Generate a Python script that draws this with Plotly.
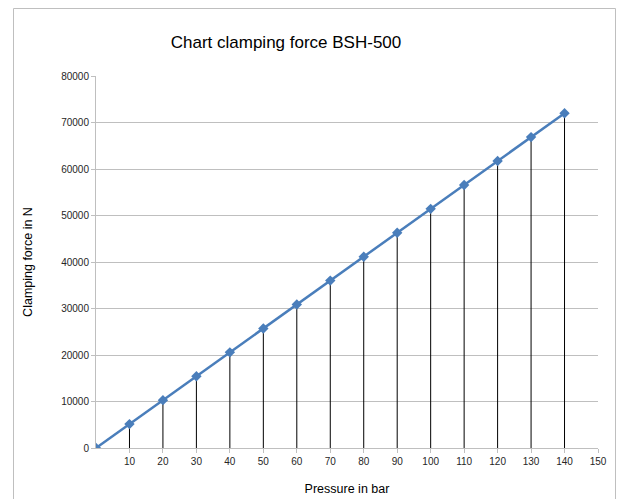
import plotly.graph_objects as go

pressure_bar = [0, 10, 20, 30, 40, 50, 60, 70, 80, 90, 100, 110, 120, 130, 140]
clamping_force_n = [0, 5140, 10290, 15430, 20570, 25710, 30860, 36000, 41140,
                    46290, 51430, 56570, 61710, 66860, 72000]
x_ticks = [10, 20, 30, 40, 50, 60, 70, 80, 90, 100, 110, 120, 130, 140, 150]
y_ticks = [0, 10000, 20000, 30000, 40000, 50000, 60000, 70000, 80000]

title_text = "Chart clamping force BSH-500"
x_title = "Pressure in bar"
y_title = "Clamping force in N"

FONT = "Liberation Sans, Arial, sans-serif"
BLUE = "#4A7EBB"
GRID = "#BFBFBF"

# drop lines built from the data (None-separated segments)
drop_x, drop_y = [], []
for px, fy in zip(pressure_bar, clamping_force_n):
    drop_x += [px, px, None]
    drop_y += [0, fy, None]

fig = go.Figure()
fig.add_trace(go.Scatter(x=drop_x, y=drop_y, mode="lines",
                         line=dict(color="#000000", width=1),
                         hoverinfo="skip", showlegend=False))
fig.add_trace(go.Scatter(x=pressure_bar, y=clamping_force_n, mode="lines+markers",
                         line=dict(color=BLUE, width=2.5),
                         marker=dict(symbol="diamond", size=8, color=BLUE),
                         showlegend=False))

W, H = 624, 499
ml, mt = 96, 76
mr = W - 598
mb = H - 448
pw, ph = W - ml - mr, H - mt - mb

def px2paper_x(p):
    return (p - ml) / pw

def px2paper_y(p):
    return (H - mb - p) / ph

fig.update_layout(
    width=W, height=H,
    margin=dict(l=ml, r=mr, t=mt, b=mb, pad=0, autoexpand=False),
    paper_bgcolor="white", plot_bgcolor="white",
    font=dict(family=FONT, color="#262626"),
    title=dict(text=title_text, x=286 / W, xanchor="center",
               y=1 - 42 / H, yanchor="middle",
               font=dict(size=17, family=FONT, color="#000000")),
    xaxis=dict(range=[0, 150], tickvals=x_ticks, ticktext=[str(v) for v in x_ticks],
               showgrid=False, zeroline=False, automargin=False,
               showline=True, linecolor=GRID, linewidth=1,
               ticks="outside", ticklen=4, tickcolor=GRID,
               tickfont=dict(size=10, family=FONT, color="#262626"),
               title=dict(text=x_title, font=dict(size=12.5, family=FONT, color="#000000"),
                          standoff=18)),
    yaxis=dict(range=[0, 80000], tickvals=y_ticks, ticktext=[str(v) for v in y_ticks],
               showgrid=True, gridcolor=GRID, gridwidth=1, zeroline=False, automargin=False,
               showline=True, linecolor=GRID, linewidth=1,
               ticks="outside", ticklen=4, tickcolor=GRID,
               tickfont=dict(size=10, family=FONT, color="#262626"),
               title=dict(text=y_title, font=dict(size=12.5, family=FONT, color="#000000"),
                          standoff=25)),
    shapes=[dict(type="rect", xref="paper", yref="paper",
                 x0=px2paper_x(13.5), x1=px2paper_x(615.5),
                 y0=px2paper_y(520), y1=px2paper_y(8.5),
                 line=dict(color="#BFBFBF", width=1), fillcolor="rgba(0,0,0,0)",
                 layer="below")],
)

fig.write_html(
    "out.html",
    config={"displayModeBar": False},
    post_script="document.body.style.margin='0';document.body.style.overflow='hidden';",
)
